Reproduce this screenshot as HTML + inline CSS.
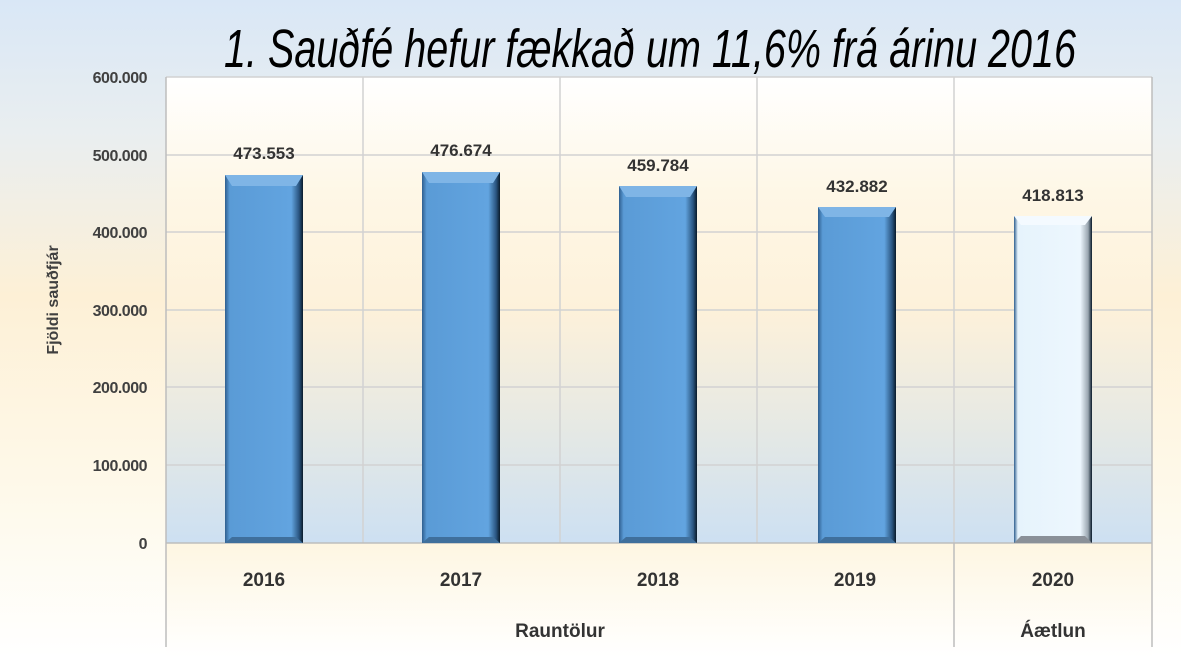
<!DOCTYPE html>
<html><head><meta charset="utf-8"><style>
html,body{margin:0;padding:0;}
body{width:1181px;height:657px;overflow:hidden;}
</style></head><body>
<svg width="1181" height="657" viewBox="0 0 1181 657" xmlns="http://www.w3.org/2000/svg" font-family="Liberation Sans, sans-serif">
<defs>
<linearGradient id="bg" x1="0" y1="0" x2="0" y2="1">
<stop offset="0" stop-color="#d9e7f6"/>
<stop offset="0.2" stop-color="#e9eef0"/>
<stop offset="0.45" stop-color="#fdf0d6"/>
<stop offset="0.75" stop-color="#fef9ea"/>
<stop offset="1" stop-color="#ffffff"/>
</linearGradient>
<linearGradient id="pa" x1="0" y1="0" x2="0" y2="1">
<stop offset="0" stop-color="#ffffff"/>
<stop offset="0.25" stop-color="#fef7e6"/>
<stop offset="0.5" stop-color="#fdf1da"/>
<stop offset="0.75" stop-color="#e6e9e4"/>
<stop offset="1" stop-color="#cde0f2"/>
</linearGradient>
<linearGradient id="bot" x1="0" y1="0" x2="0" y2="1">
<stop offset="0" stop-color="#fef6e2"/>
<stop offset="1" stop-color="#ffffff"/>
</linearGradient>
<linearGradient id="bar" x1="0" y1="0" x2="1" y2="0">
<stop offset="0" stop-color="#2f5f8f"/>
<stop offset="0.06" stop-color="#5a9bd6"/>
<stop offset="0.85" stop-color="#62a4e0"/>
<stop offset="0.95" stop-color="#2a5580"/>
<stop offset="1" stop-color="#0a1a2a"/>
</linearGradient>
<linearGradient id="bar2" x1="0" y1="0" x2="1" y2="0">
<stop offset="0" stop-color="#2f5f8f"/>
<stop offset="0.05" stop-color="#e6f3fc"/>
<stop offset="0.85" stop-color="#edf7fe"/>
<stop offset="0.95" stop-color="#9aa6b0"/>
<stop offset="1" stop-color="#0a1a2a"/>
</linearGradient>
</defs>
<rect width="1181" height="657" fill="url(#bg)"/>
<rect x="166" y="77" width="986" height="466" fill="url(#pa)"/>
<rect x="166" y="543" width="986" height="114" fill="url(#bot)"/>
<g stroke="#d2d2d2" stroke-width="1.5">
<line x1="166" y1="77" x2="1152" y2="77"/>
<line x1="166" y1="155" x2="1152" y2="155"/>
<line x1="166" y1="232" x2="1152" y2="232"/>
<line x1="166" y1="310" x2="1152" y2="310"/>
<line x1="166" y1="387" x2="1152" y2="387"/>
<line x1="166" y1="465" x2="1152" y2="465"/>
<line x1="363" y1="77" x2="363" y2="543"/>
<line x1="560" y1="77" x2="560" y2="543"/>
<line x1="757" y1="77" x2="757" y2="543"/>
<line x1="954" y1="77" x2="954" y2="543"/>
</g>
<g stroke="#bdbdbd" stroke-width="1.5">
<line x1="166" y1="543" x2="1152" y2="543"/>
<line x1="166" y1="77" x2="166" y2="647"/>
<line x1="954" y1="543" x2="954" y2="647"/>
<line x1="1152" y1="77" x2="1152" y2="647"/>
</g>
<g>
<rect x="225" y="175" width="78" height="368" fill="url(#bar)"/>
<polygon points="225,175 303,175 296,186 232,186" fill="#7fb5e6"/>
<polygon points="225,543 303,543 296,537 232,537" fill="#3f6f9c"/>
<rect x="422" y="172" width="78" height="371" fill="url(#bar)"/>
<polygon points="422,172 500,172 493,183 429,183" fill="#7fb5e6"/>
<polygon points="422,543 500,543 493,537 429,537" fill="#3f6f9c"/>
<rect x="619" y="186" width="78" height="357" fill="url(#bar)"/>
<polygon points="619,186 697,186 690,197 626,197" fill="#7fb5e6"/>
<polygon points="619,543 697,543 690,537 626,537" fill="#3f6f9c"/>
<rect x="818" y="207" width="78" height="336" fill="url(#bar)"/>
<polygon points="818,207 896,207 889,217 825,217" fill="#7fb5e6"/>
<polygon points="818,543 896,543 889,537 825,537" fill="#3f6f9c"/>
<rect x="1014" y="216" width="78" height="327" fill="url(#bar2)"/>
<polygon points="1014,216 1092,216 1085,225 1021,225" fill="#f4faff"/>
<polygon points="1014,543 1092,543 1085,536 1021,536" fill="#8a9098"/>
</g>
<g font-size="17" font-weight="bold" fill="#333" text-anchor="middle">
<text x="264" y="159">473.553</text>
<text x="461" y="156">476.674</text>
<text x="658" y="171">459.784</text>
<text x="857" y="192">432.882</text>
<text x="1053" y="201">418.813</text>
</g>
<g font-size="16" font-weight="bold" fill="#404040" text-anchor="end" letter-spacing="-0.5">
<text x="147" y="83">600.000</text>
<text x="147" y="161">500.000</text>
<text x="147" y="238">400.000</text>
<text x="147" y="316">300.000</text>
<text x="147" y="393">200.000</text>
<text x="147" y="471">100.000</text>
<text x="147" y="549">0</text>
</g>
<text transform="translate(58,300) rotate(-90)" font-size="16" font-weight="bold" fill="#404040" text-anchor="middle">Fjöldi sauðfjár</text>
<g font-size="19" font-weight="bold" fill="#333" text-anchor="middle">
<text x="264" y="586">2016</text>
<text x="461" y="586">2017</text>
<text x="658" y="586">2018</text>
<text x="855" y="586">2019</text>
<text x="1053" y="586">2020</text>
<text x="560" y="637">Rauntölur</text>
<text x="1053" y="637">Áætlun</text>
</g>
<text x="650" y="67" font-size="54" font-style="italic" fill="#000" text-anchor="middle" textLength="852" lengthAdjust="spacingAndGlyphs">1.  Sauðfé hefur fækkað um 11,6% frá árinu 2016</text>
</svg>
</body></html>
